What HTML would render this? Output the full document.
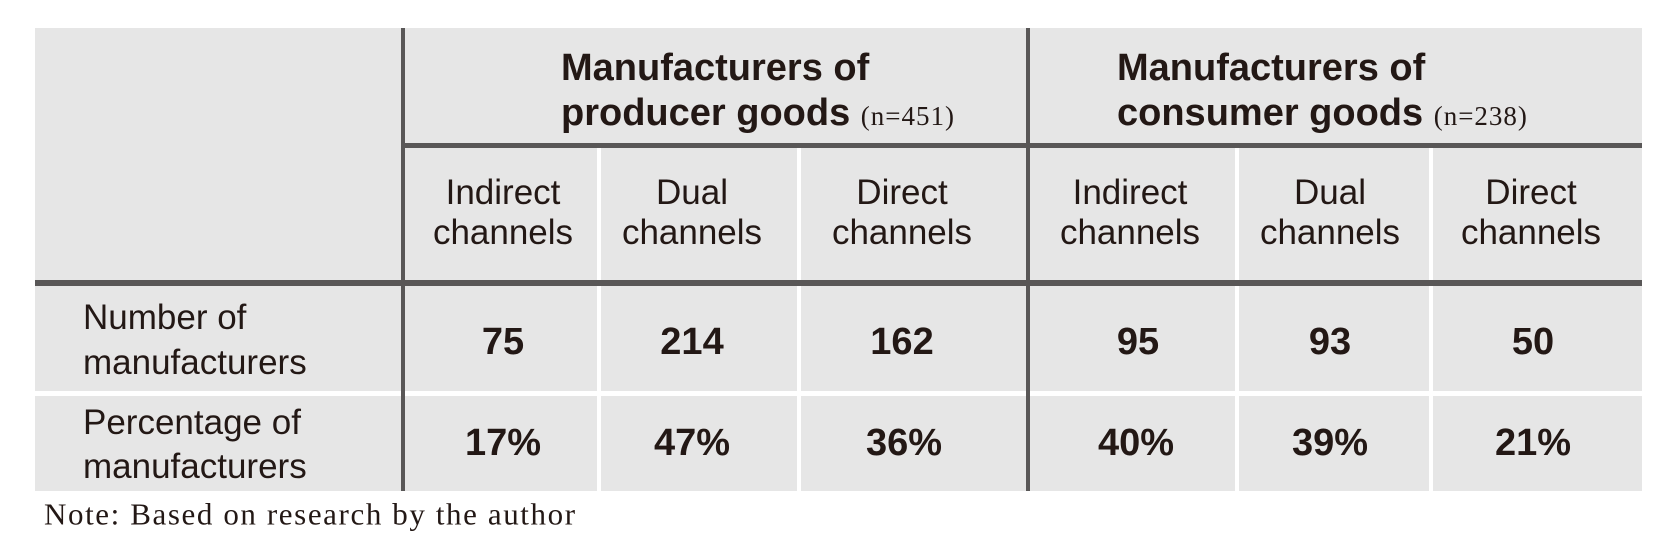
<!DOCTYPE html>
<html><head><meta charset="utf-8"><style>
html,body{margin:0;padding:0;background:#fff;}
#wrap{position:relative;width:1670px;height:543px;overflow:hidden;font-family:"Liberation Sans Narrow","Liberation Sans",sans-serif;color:#231815;}
.bg{position:absolute;background:#e6e6e6;}
.dk{position:absolute;background:#595757;}
.wh{position:absolute;background:#fff;}
.t{position:absolute;white-space:nowrap;line-height:1;}
.c{transform:translate(-50%,-50%);text-align:center;}
.l{transform:translateY(-50%);}
.gh{font-weight:bold;font-size:38px;}
.gh small{font-family:"Liberation Serif",serif;font-weight:normal;font-size:27px;letter-spacing:1px;}
.sh{font-size:35px;}
.rl{font-size:35px;}
.v{font-weight:bold;font-size:38px;}
.note{font-family:"Liberation Serif",serif;font-size:31px;letter-spacing:1.6px;}
</style></head><body>
<div id="wrap">
<div class="bg" style="left:35px;top:28px;width:1607px;height:463px;"></div>
<div class="wh" style="left:35px;top:391px;width:1607px;height:5px;"></div>
<div class="wh" style="left:597px;top:147px;width:4px;height:344px;"></div>
<div class="wh" style="left:797px;top:147px;width:4px;height:344px;"></div>
<div class="wh" style="left:1235px;top:147px;width:4px;height:344px;"></div>
<div class="wh" style="left:1429px;top:147px;width:4px;height:344px;"></div>
<div class="dk" style="left:401px;top:143px;width:1241px;height:5px;"></div>
<div class="dk" style="left:35px;top:280px;width:1607px;height:6px;"></div>
<div class="dk" style="left:401px;top:28px;width:4px;height:463px;"></div>
<div class="dk" style="left:1026px;top:28px;width:4px;height:463px;"></div>

<div class="t l gh" style="left:561px;top:68px;">Manufacturers of</div>
<div class="t l gh" style="left:561px;top:113px;">producer goods <small>(n=451)</small></div>
<div class="t l gh" style="left:1117px;top:68px;">Manufacturers of</div>
<div class="t l gh" style="left:1117px;top:113px;">consumer goods <small>(n=238)</small></div>

<div class="t c sh" style="left:503px;top:213px;line-height:40px;">Indirect<br>channels</div>
<div class="t c sh" style="left:692px;top:213px;line-height:40px;">Dual<br>channels</div>
<div class="t c sh" style="left:902px;top:213px;line-height:40px;">Direct<br>channels</div>
<div class="t c sh" style="left:1130px;top:213px;line-height:40px;">Indirect<br>channels</div>
<div class="t c sh" style="left:1330px;top:213px;line-height:40px;">Dual<br>channels</div>
<div class="t c sh" style="left:1531px;top:213px;line-height:40px;">Direct<br>channels</div>

<div class="t l rl" style="left:83px;top:340px;line-height:45px;">Number of<br>manufacturers</div>
<div class="t l rl" style="left:83px;top:445px;line-height:44px;">Percentage of<br>manufacturers</div>

<div class="t c v" style="left:503px;top:342px;">75</div>
<div class="t c v" style="left:692px;top:342px;">214</div>
<div class="t c v" style="left:902px;top:342px;">162</div>
<div class="t c v" style="left:1138px;top:342px;">95</div>
<div class="t c v" style="left:1330px;top:342px;">93</div>
<div class="t c v" style="left:1533px;top:342px;">50</div>

<div class="t c v" style="left:503px;top:443px;">17%</div>
<div class="t c v" style="left:692px;top:443px;">47%</div>
<div class="t c v" style="left:904px;top:443px;">36%</div>
<div class="t c v" style="left:1136px;top:443px;">40%</div>
<div class="t c v" style="left:1330px;top:443px;">39%</div>
<div class="t c v" style="left:1533px;top:443px;">21%</div>

<div class="t l note" style="left:44px;top:514px;">Note: Based on research by the author</div>
</div>
</body></html>
